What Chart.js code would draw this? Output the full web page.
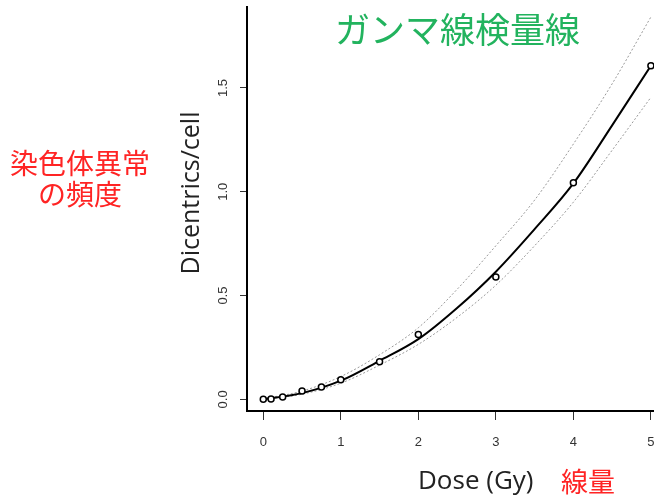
<!DOCTYPE html>
<html>
<head>
<meta charset="utf-8">
<script src="https://cdn.jsdelivr.net/npm/chart.js@4"></script>
<style>
  html, body { margin: 0; padding: 0; background: #fff; }
  #wrap { width: 654px; height: 498px; }
</style>
</head>
<body>
<div id="wrap"><canvas id="curveChart" width="654" height="498"></canvas></div>
<script>
// measured points (dose in Gy, dicentrics per cell)
const doses = [0, 0.1, 0.25, 0.5, 0.75, 1, 1.5, 2, 3, 4, 5];
const dicentrics = [0.0, 0.002, 0.012, 0.04, 0.06, 0.094, 0.181, 0.313, 0.59, 1.044, 1.607];

// fitted curve and dotted bands
const fitDoses = [0, 0.5, 1, 1.5, 2, 2.5, 3, 3.5, 4, 4.5, 5];
const fitCurve = [0.0, 0.03, 0.09, 0.186, 0.29, 0.44, 0.615, 0.82, 1.04, 1.32, 1.607];
const upperBand = [0.003, 0.04, 0.11, 0.215, 0.345, 0.53, 0.74, 0.96, 1.23, 1.52, 1.842];
const lowerBand = [0.0, 0.025, 0.078, 0.165, 0.265, 0.395, 0.55, 0.74, 0.95, 1.2, 1.455];

const xTicks = [0, 1, 2, 3, 4, 5];
const yTicks = [0.0, 0.5, 1.0, 1.5];

function pairs(xs, ys) {
  return xs.map(function (x, i) { return { x: x, y: ys[i] }; });
}

function noPadding(s) {
  s.paddingLeft = 0; s.paddingRight = 0; s.paddingTop = 0; s.paddingBottom = 0;
}

// extra text (titles and Japanese notes)
var labelsPlugin = {
  id: 'labels',
  afterDraw: function (chart) {
    var c = chart.ctx;
    c.save();
    c.textBaseline = 'middle';

    c.fillStyle = '#22b35e';
    c.font = '35px "Noto Sans CJK JP"';
    c.textAlign = 'left';
    c.fillText('ガンマ線検量線', 335, 30);

    c.fillStyle = '#ff2424';
    c.font = '28px "Noto Sans CJK JP"';
    c.textAlign = 'center';
    c.fillText('染色体異常', 80, 163);
    c.fillText('の頻度', 80, 194);

    c.font = '27px "Noto Sans CJK JP"';
    c.textAlign = 'left';
    c.fillText('線量', 561, 482);

    c.fillStyle = '#222';
    c.font = '26px "Open Sans"';
    c.fillText('Dose (Gy)', 418, 482);

    c.translate(192, 193);
    c.rotate(-Math.PI / 2);
    c.textAlign = 'center';
    c.font = '25px "Open Sans"';
    c.fillText('Dicentrics/cell', 0, 0);
    c.restore();
  }
};

var ctx = document.getElementById('curveChart').getContext('2d');
var myChart = new Chart(ctx, {
  type: 'scatter',
  data: {
    datasets: [
      {
        label: 'observed',
        data: pairs(doses, dicentrics),
        pointRadius: 3,
        pointBorderWidth: 1.5,
        borderColor: '#000',
        backgroundColor: '#fff',
        showLine: false
      },
      {
        label: 'fit',
        data: pairs(fitDoses, fitCurve),
        showLine: true,
        pointRadius: 0,
        borderColor: '#000',
        borderWidth: 2,
        cubicInterpolationMode: 'monotone'
      },
      {
        label: 'upper',
        data: pairs(fitDoses, upperBand),
        showLine: true,
        pointRadius: 0,
        borderColor: '#999',
        borderWidth: 1,
        borderDash: [2, 2],
        cubicInterpolationMode: 'monotone'
      },
      {
        label: 'lower',
        data: pairs(fitDoses, lowerBand),
        showLine: true,
        pointRadius: 0,
        borderColor: '#999',
        borderWidth: 1,
        borderDash: [2, 2],
        cubicInterpolationMode: 'monotone'
      }
    ]
  },
  options: {
    responsive: false,
    animation: false,
    layout: { autoPadding: false, padding: { top: 7, right: 0, bottom: 0, left: 0 } },
    plugins: {
      legend: { display: false },
      tooltip: { enabled: false }
    },
    scales: {
      x: {
        type: 'linear',
        min: -0.21,
        max: 5.04,
        afterFit: function (s) { s.height = 87; noPadding(s); },
        afterBuildTicks: function (s) { s.ticks = xTicks.map(function (v) { return { value: v }; }); },
        border: { display: true, color: '#000', width: 2 },
        grid: { drawOnChartArea: false, drawTicks: true, tickLength: 9, color: '#333', lineWidth: 1 },
        ticks: {
          padding: 15,
          color: '#333',
          font: { family: '"Liberation Sans", Arial', size: 13 },
          callback: function (v) { return String(v); }
        }
      },
      y: {
        type: 'linear',
        min: -0.056,
        max: 1.89,
        afterFit: function (s) { s.width = 247; noPadding(s); },
        afterBuildTicks: function (s) { s.ticks = yTicks.map(function (v) { return { value: v }; }); },
        border: { display: true, color: '#000', width: 2 },
        grid: { drawOnChartArea: false, drawTicks: true, tickLength: 7, color: '#333', lineWidth: 1 },
        ticks: {
          minRotation: 90,
          maxRotation: 90,
          crossAlign: 'center',
          padding: 8,
          color: '#333',
          font: { family: '"Liberation Sans", Arial', size: 13 },
          callback: function (v) { return Number(v).toFixed(1); }
        }
      }
    }
  },
  plugins: [labelsPlugin]
});
</script>
</body>
</html>
